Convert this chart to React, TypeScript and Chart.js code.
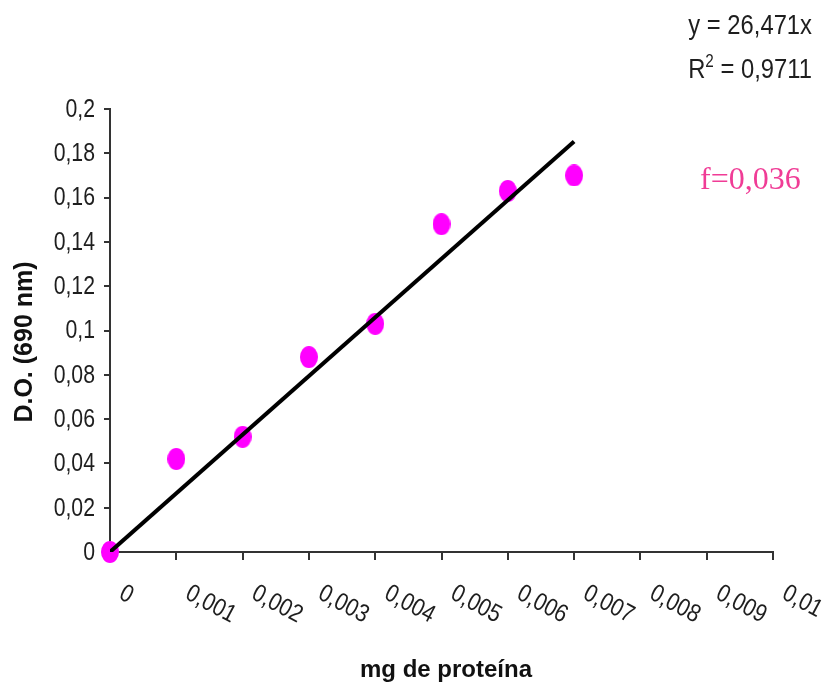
import React, { useEffect, useRef } from "react";
import { Chart, registerables } from "chart.js";

Chart.register(...registerables);

// ---- data ----
const proteinMg = [0, 0.001, 0.002, 0.003, 0.004, 0.005, 0.006, 0.007];
const absorbance = [0, 0.042, 0.052, 0.088, 0.103, 0.148, 0.163, 0.17];
const trendX = [0, 0.007];
const trendY = [0, 0.1853];
const xTickValues = [0, 0.001, 0.002, 0.003, 0.004, 0.005, 0.006, 0.007, 0.008, 0.009, 0.01];
const xTickLabels = ["0", "0,001", "0,002", "0,003", "0,004", "0,005", "0,006", "0,007", "0,008", "0,009", "0,01"];
const yTickValues = [0, 0.02, 0.04, 0.06, 0.08, 0.1, 0.12, 0.14, 0.16, 0.18, 0.2];
const yTickLabels = ["0", "0,02", "0,04", "0,06", "0,08", "0,1", "0,12", "0,14", "0,16", "0,18", "0,2"];
const equationText = "y = 26,471x";
const r2Parts = ["R", "2", " = 0,9711"];
const factorText = "f=0,036";
const xTitle = "mg de proteína";
const yTitle = "D.O. (690 nm)";

const SANS = "'Liberation Sans', Arial, sans-serif";
const SERIF = "'Liberation Serif', 'Times New Roman', serif";
const AXIS = "#333333";
const TEXT = "#1e1e1e";
const NARROW_SCALE = 0.85;

function makeDot(): HTMLCanvasElement {
  const c = document.createElement("canvas");
  c.width = 18;
  c.height = 22;
  const g = c.getContext("2d")!;
  g.fillStyle = "#ff00ff";
  g.beginPath();
  g.ellipse(9, 11, 9, 11, 0, 0, Math.PI * 2);
  g.fill();
  return c;
}

function narrowText(
  ctx: CanvasRenderingContext2D,
  text: string,
  x: number,
  y: number,
  align: CanvasTextAlign,
  rot = 0,
  sx = NARROW_SCALE
) {
  ctx.save();
  ctx.translate(x, y);
  if (rot) ctx.rotate(rot);
  ctx.scale(sx, 1);
  ctx.textAlign = align;
  ctx.fillText(text, 0, 0);
  ctx.restore();
}

const textPlugin = {
  id: "textPlugin",
  afterDraw(chart: any) {
    const ctx: CanvasRenderingContext2D = chart.ctx;
    const xs = chart.scales.x;
    const ys = chart.scales.y;
    const area = chart.chartArea;
    ctx.save();
    ctx.fillStyle = TEXT;
    ctx.textBaseline = "middle";
    // y tick labels
    ctx.font = `25px ${SANS}`;
    yTickValues.forEach((v, i) => {
      narrowText(ctx, yTickLabels[i], area.left - 15, ys.getPixelForValue(v) + 1, "right");
    });
    // rotated x tick labels
    ctx.font = `25px ${SANS}`;
    xTickValues.forEach((v, i) => {
      narrowText(ctx, xTickLabels[i], xs.getPixelForValue(v) + 11, area.bottom + 40, "left", (28 * Math.PI) / 180);
    });
    // axis titles
    ctx.fillStyle = "#111";
    ctx.font = `bold 24px ${SANS}`;
    narrowText(ctx, xTitle, 446, 670, "center", 0, 1);
    ctx.font = `bold 25px ${SANS}`;
    narrowText(ctx, yTitle, 25, 342, "center", -Math.PI / 2, 1);
    // equation
    ctx.fillStyle = TEXT;
    ctx.font = `28px ${SANS}`;
    narrowText(ctx, equationText, 812, 26, "right");
    // R² line with real superscript
    const big = `28px ${SANS}`;
    const small = `18px ${SANS}`;
    ctx.font = big;
    const wR = ctx.measureText(r2Parts[0]).width * NARROW_SCALE;
    const wRest = ctx.measureText(r2Parts[2]).width * NARROW_SCALE;
    ctx.font = small;
    const wSup = ctx.measureText(r2Parts[1]).width * NARROW_SCALE;
    const x0 = 812 - wRest - wSup - wR;
    ctx.font = big;
    narrowText(ctx, r2Parts[0], x0, 70, "left");
    ctx.font = small;
    narrowText(ctx, r2Parts[1], x0 + wR, 62, "left");
    ctx.font = big;
    narrowText(ctx, r2Parts[2], x0 + wR + wSup, 70, "left");
    // factor
    ctx.font = `32px ${SERIF}`;
    ctx.fillStyle = "#f03c96";
    narrowText(ctx, factorText, 700, 181, "left", 0, 1);
    ctx.restore();
  },
};

export default function App() {
  const ref = useRef<HTMLCanvasElement>(null);
  useEffect(() => {
    if (!ref.current) return;
    const dot = makeDot();
    const chart = new Chart(ref.current, {
      type: "scatter",
      data: {
        datasets: [
          {
            type: "line",
            data: trendX.map((x, i) => ({ x, y: trendY[i] })),
            borderColor: "#000000",
            borderWidth: 4,
            pointRadius: 0,
            fill: false,
            order: 0,
          } as any,
          {
            type: "scatter",
            data: proteinMg.map((x, i) => ({ x, y: absorbance[i] })),
            pointStyle: dot as any,
            pointRadius: 9,
            backgroundColor: "#ff00ff",
            borderWidth: 0,
            clip: false,
            order: 1,
          } as any,
        ],
      },
      options: {
        animation: false,
        responsive: false,
        devicePixelRatio: 1,
        layout: { padding: { left: 0, top: 109, right: 51, bottom: 0 } },
        plugins: { legend: { display: false }, tooltip: { enabled: false } },
        scales: {
          x: {
            type: "linear",
            min: 0,
            max: 0.01,
            ticks: { display: false, stepSize: 0.001 },
            grid: {
              display: true,
              drawOnChartArea: false,
              drawTicks: true,
              tickLength: 8,
              color: AXIS,
              lineWidth: 2,
            },
            border: { display: true, color: AXIS, width: 2 },
            afterFit: (s: any) => {
              s.height = 132;
            },
          },
          y: {
            type: "linear",
            min: 0,
            max: 0.2,
            ticks: { display: false, stepSize: 0.02 },
            grid: {
              display: true,
              drawOnChartArea: false,
              drawTicks: true,
              tickLength: 6,
              color: AXIS,
              lineWidth: 2,
            },
            border: { display: true, color: AXIS, width: 2 },
            afterFit: (s: any) => {
              s.width = 110;
            },
          },
        },
      } as any,
      plugins: [textPlugin],
    });
    return () => chart.destroy();
  }, []);
  return (
    <div style={{ position: "absolute", left: 0, top: 0, width: 824, height: 684, background: "#fff" }}>
      <canvas ref={ref} width={824} height={684} style={{ display: "block", width: 824, height: 684 }} />
    </div>
  );
}
